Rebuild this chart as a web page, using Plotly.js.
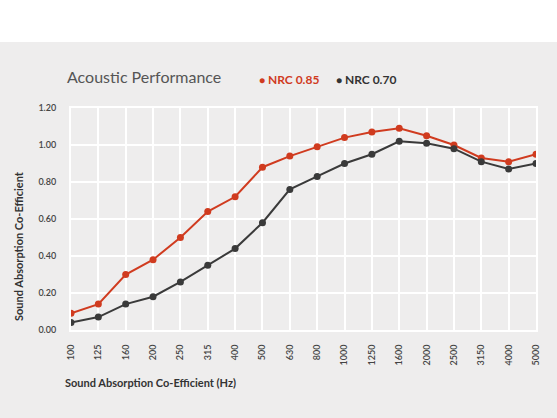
<!DOCTYPE html>
<html>
<head>
<meta charset="utf-8">
<script src="https://cdn.plot.ly/plotly-3.0.1.min.js"></script>
<style>
  html, body { margin: 0; padding: 0; background: #ffffff; }
  #chart { position: absolute; left: 0; top: 42px; width: 557px; height: 376px; }
</style>
</head>
<body>
<div id="chart"></div>
<script>
const frequencies = ["100", "125", "160", "200", "250", "315", "400", "500", "630", "800",
  "1000", "1250", "1600", "2000", "2500", "3150", "4000", "5000"];
const nrc085 = [0.09, 0.14, 0.30, 0.38, 0.50, 0.64, 0.72, 0.88, 0.94, 0.99,
  1.04, 1.07, 1.09, 1.05, 1.00, 0.93, 0.91, 0.95];
const nrc070 = [0.04, 0.07, 0.14, 0.18, 0.26, 0.35, 0.44, 0.58, 0.76, 0.83,
  0.90, 0.95, 1.02, 1.01, 0.98, 0.91, 0.87, 0.90];
const yTicks = [0, 0.2, 0.4, 0.6, 0.8, 1.0, 1.2];

const red = "#d03b1f";
const dark = "#3a3a3a";
const bg = "#eeeded";
const font = "Lato, 'Open Sans', sans-serif";

// plot area in div pixels (div starts 42px below the top of the page)
const plotH = 376 - 66 - 88;
const plotW = 557 - 71 - 21;
const px = x => (x - 71) / plotW;
const py = y => 1 - (y - 42 - 66) / plotH;

const traces = [
  {
    name: "NRC 0.85",
    x: frequencies,
    y: nrc085,
    mode: "lines+markers",
    line: { color: red, width: 2 },
    marker: { color: red, size: 7 },
    showlegend: false
  },
  {
    name: "NRC 0.70",
    x: frequencies,
    y: nrc070,
    mode: "lines+markers",
    line: { color: dark, width: 2 },
    marker: { color: dark, size: 7 },
    showlegend: false
  }
];

const layout = {
  width: 557,
  height: 376,
  paper_bgcolor: bg,
  plot_bgcolor: bg,
  margin: { l: 71, r: 21, t: 66, b: 88 },
  font: { family: font, color: "#3a3a3a" },
  title: {
    text: "Acoustic Performance",
    font: { size: 16, color: "#555555", family: font },
    xref: "container", x: 67 / 557, xanchor: "left",
    yref: "container", y: 1 - 35 / 376, yanchor: "middle"
  },
  xaxis: {
    type: "category",
    range: [0, frequencies.length - 1],
    showgrid: true,
    gridcolor: "#ffffff",
    gridwidth: 2,
    showline: true,
    linecolor: "#ffffff",
    linewidth: 2,
    mirror: true,
    zeroline: false,
    ticks: "",
    tickangle: -90,
    ticklabelstandoff: 9,
    tickfont: { size: 9, color: "#444444", family: font, weight: 600 }
  },
  yaxis: {
    range: [0, 1.2],
    tickvals: yTicks,
    tickformat: ".2f",
    showgrid: true,
    gridcolor: "#ffffff",
    gridwidth: 2,
    showline: true,
    linecolor: "#ffffff",
    linewidth: 2,
    mirror: true,
    zeroline: false,
    ticks: "",
    ticklabelstandoff: 11,
    tickfont: { size: 9, color: "#444444", family: font, weight: 600 }
  },
  annotations: [
    {
      text: "<span style='font-size:10px'>●</span> NRC 0.85",
      xref: "paper", yref: "paper", x: px(257), y: py(80),
      xanchor: "left", yanchor: "middle", showarrow: false,
      font: { size: 12, color: red, family: font, weight: 700 }
    },
    {
      text: "<span style='font-size:10px'>●</span> NRC 0.70",
      xref: "paper", yref: "paper", x: px(334), y: py(80),
      xanchor: "left", yanchor: "middle", showarrow: false,
      font: { size: 12, color: "#333333", family: font, weight: 700 }
    },
    {
      text: "Sound Absorption Co-Efficient",
      xref: "paper", yref: "paper", x: px(18), y: py(246),
      xanchor: "center", yanchor: "middle", textangle: -90, showarrow: false,
      font: { size: 11, color: "#333333", family: font, weight: 700 }
    },
    {
      text: "Sound Absorption Co-Efficient (Hz)",
      xref: "paper", yref: "paper", x: px(63), y: py(382),
      xanchor: "left", yanchor: "middle", showarrow: false,
      font: { size: 11, color: "#333333", family: font, weight: 700 }
    }
  ]
};

Plotly.newPlot("chart", traces, layout, { displayModeBar: false, staticPlot: true });
</script>
</body>
</html>
